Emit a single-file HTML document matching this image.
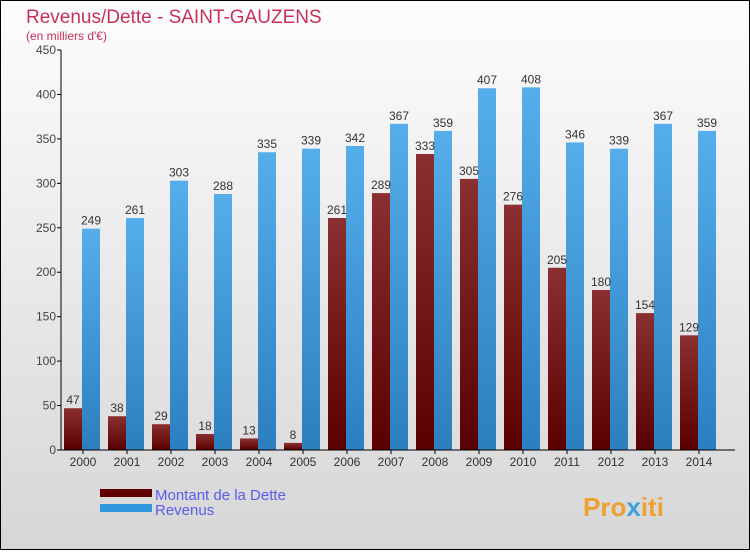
<!DOCTYPE html>
<html><head><meta charset="utf-8"><style>
body{margin:0}
#c{width:750px;height:550px;position:relative;font-family:"Liberation Sans",sans-serif}
</style></head><body>
<div id="c">
<svg id="s" width="750" height="550" xmlns="http://www.w3.org/2000/svg">
<defs>
<linearGradient id="bg" x1="0" y1="0" x2="0" y2="1"><stop offset="0" stop-color="#fdfdfd"/><stop offset="1" stop-color="#d6d6d6"/></linearGradient>
<linearGradient id="gd" x1="0" y1="0" x2="0" y2="1"><stop offset="0" stop-color="#8a3032"/><stop offset="1" stop-color="#5a0000"/></linearGradient>
<linearGradient id="gr" x1="0" y1="0" x2="0" y2="1"><stop offset="0" stop-color="#55aeea"/><stop offset="1" stop-color="#2c7fbf"/></linearGradient>
</defs>
<rect x="0.5" y="0.5" width="749" height="549" fill="url(#bg)" stroke="#000"/>
<text x="26" y="23" font-size="19" fill="#c8305a">Revenus/Dette - SAINT-GAUZENS</text>
<text x="26" y="40" font-size="12" fill="#c8305a">(en milliers d'€)</text>
<g id="plot"></g>
<g>
<rect x="100" y="489" width="52" height="8" fill="#600000"/>
<text x="155" y="500" font-size="15" fill="#5a5af0">Montant de la Dette</text>
<rect x="100" y="504" width="52" height="8" fill="#2f95dc"/>
<text x="155" y="515" font-size="15" fill="#5a5af0">Revenus</text>
</g>
<text x="583" y="516" font-size="26" font-weight="bold" fill="#f0a030">Pro<tspan fill="#3aa0e0">x</tspan>iti</text>
</svg>
</div>
<script>
const years=["2000","2001","2002","2003","2004","2005","2006","2007","2008","2009","2010","2011","2012","2013","2014"];
const dette=[47,38,29,18,13,8,261,289,333,305,276,205,180,154,129];
const revenus=[249,261,303,288,335,339,342,367,359,407,408,346,339,367,359];
const yTicks=[0,50,100,150,200,250,300,350,400,450];
const NS="http://www.w3.org/2000/svg";
const g=document.getElementById('plot');
const x0=62,gw=44,yb=450,yt=50,ymax=450;
const y=v=>yb-(v/ymax)*(yb-yt);
function mk(t,a){const e=document.createElementNS(NS,t);for(const k in a)e.setAttribute(k,a[k]);g.appendChild(e);return e;}
yTicks.forEach(v=>{
 const l=mk('line',{x1:57,x2:61,y1:y(v),y2:y(v),stroke:'#000'});
 
 
 const t=mk('text',{x:56,y:y(v)+4,'font-size':12,fill:'#444','text-anchor':'end'});
 t.textContent=v;
 
 
});
years.forEach((yr,i)=>{
 const gx=x0+i*gw;
 const d=mk('rect',{x:gx+2,y:y(dette[i]),width:18,height:yb-y(dette[i]),fill:'url(#gd)'});
 
 
 const r=mk('rect',{x:gx+20,y:y(revenus[i]),width:18,height:yb-y(revenus[i]),fill:'url(#gr)'});
 
 
 const td=mk('text',{x:gx+11,y:y(dette[i])-4,'font-size':12,fill:'#333','text-anchor':'middle'});
 td.textContent=dette[i];
 
 
 const tr=mk('text',{x:gx+29,y:y(revenus[i])-4,'font-size':12,fill:'#333','text-anchor':'middle'});
 tr.textContent=revenus[i];
 
 
 const tk=mk('line',{x1:gx+21,x2:gx+21,y1:yb,y2:yb+4,stroke:'#000'});
 
 
 const tl=mk('text',{x:gx+21,y:yb+16,'font-size':12,fill:'#333','text-anchor':'middle'});
 tl.textContent=yr;
 
 
});
const ya=mk('line',{x1:61,x2:61,y1:yt,y2:yb,stroke:'#000'});


const xa=mk('line',{x1:61,x2:735,y1:yb,y2:yb,stroke:'#000'});


</script>
</body></html>
